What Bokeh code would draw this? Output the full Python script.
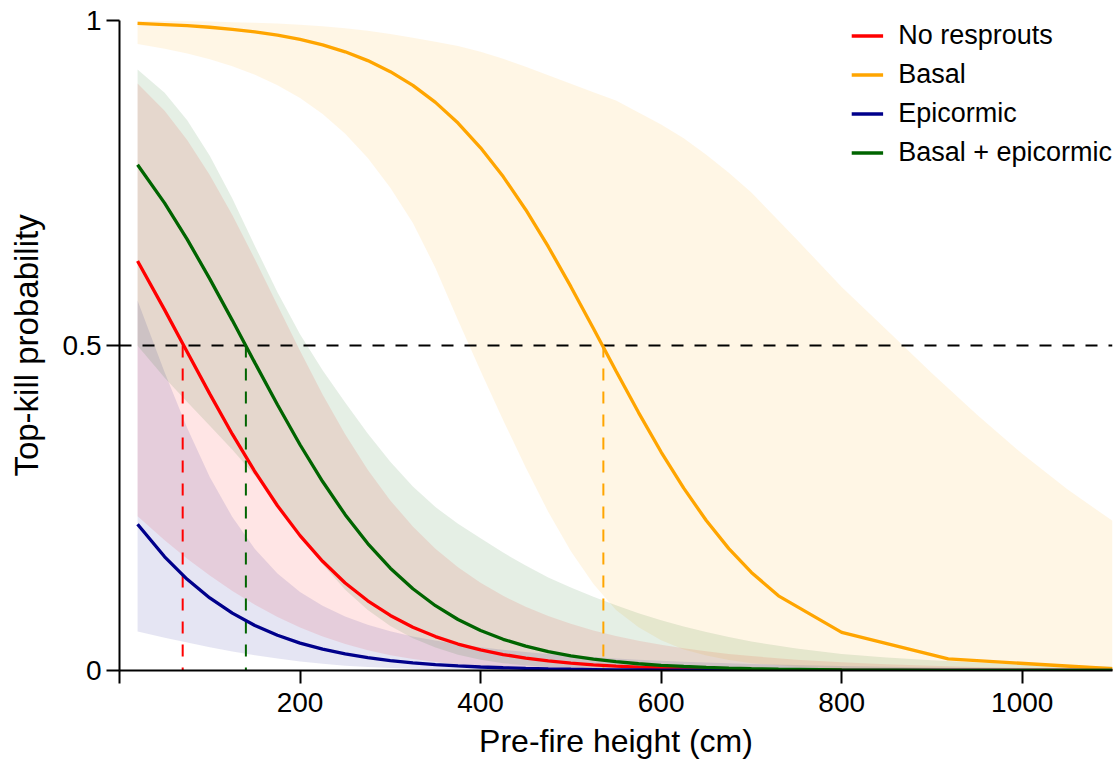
from bokeh.plotting import figure
from bokeh.models import FixedTicker, Legend, LegendItem
from bokeh.embed import file_html
from bokeh.resources import INLINE

FONT = "Liberation Sans"

# ---------------- data ----------------
# fitted curves: pre-fire height (cm) -> top-kill probability
line_x = [20, 50, 75, 100, 125, 150, 175, 200, 225, 250, 275, 300, 325, 350, 375,
          400, 425, 450, 475, 500, 525, 550, 575, 600, 625, 650, 675, 700,
          730, 800, 918, 1100]
no_resprouts = [0.630, 0.5548, 0.4900, 0.4256, 0.3635, 0.3058, 0.2535, 0.2075, 0.1680,
                0.1347, 0.1072, 0.0847, 0.0666, 0.0522, 0.0407, 0.0317, 0.0246, 0.0191,
                0.0148, 0.0114, 0.0088, 0.0068, 0.0053, 0.0041, 0.0031, 0.0024, 0.0019,
                0.0014, 0.0011, 0.0005, 0.00015, 0.00002]
basal = [0.9955, 0.9938, 0.9920, 0.9896, 0.9865, 0.9826, 0.9775, 0.9709, 0.9625,
         0.9518, 0.9383, 0.9213, 0.9002, 0.8740, 0.8422, 0.8042, 0.7599, 0.7089,
         0.6520, 0.5905, 0.5262, 0.4608, 0.3968, 0.3361, 0.2805, 0.2308, 0.1875,
         0.1509, 0.1149, 0.0587, 0.0178, 0.0027]
epicormic = [0.2249, 0.1749, 0.1403, 0.1116, 0.0882, 0.0692, 0.0542, 0.0422, 0.0328,
             0.0255, 0.0197, 0.0152, 0.0118, 0.0091, 0.0070, 0.0054, 0.0042, 0.0032,
             0.0025, 0.0019, 0.0015, 0.0011, 0.0009, 0.0007, 0.0005, 0.0004, 0.0003,
             0.0002, 0.0002, 0.0001, 0.00003, 0.00001]
basal_epicormic = [0.778, 0.7191, 0.6633, 0.6025, 0.5387, 0.4733, 0.4088, 0.3473,
                   0.2907, 0.2397, 0.1953, 0.1574, 0.1258, 0.0997, 0.0785, 0.0615,
                   0.0480, 0.0374, 0.0290, 0.0225, 0.0174, 0.0135, 0.0104, 0.0080,
                   0.0062, 0.0048, 0.0037, 0.0028, 0.0021, 0.0010, 0.0003, 0.00004]

# confidence bands
band_x = [20, 50, 75, 100, 125, 150, 175, 200, 225, 250, 275, 300, 325, 350, 375,
          400, 425, 450, 475, 500, 525, 550, 575, 600, 625, 650, 675, 700,
          750, 800, 850, 900, 950, 1000, 1050, 1100]
no_resprouts_lo = [0.2372, 0.2004, 0.1721, 0.1460, 0.1224, 0.1012, 0.0825, 0.0662,
                   0.0523, 0.0407, 0.0312, 0.0236, 0.0176, 0.0129, 0.0094, 0.0068,
                   0.0049, 0.0035, 0.0025, 0.0017, 0.0012, 0.0008, 0.0006, 0.0004,
                   0.0003, 0.0002, 0.0001, 0.0001, 0.00005, 0.00003, 0.00002, 0.00001,
                   0.0, 0.0, 0.0, 0.0]
no_resprouts_hi = [0.9031, 0.8610, 0.8163, 0.7624, 0.7006, 0.6327, 0.5619, 0.4918,
                   0.4247, 0.3635, 0.3090, 0.2617, 0.2215, 0.1875, 0.1590, 0.1349,
                   0.1149, 0.0980, 0.0839, 0.0718, 0.0617, 0.0531, 0.0457, 0.0395,
                   0.0341, 0.0295, 0.0255, 0.0222, 0.0167, 0.0126, 0.0096, 0.0073,
                   0.0055, 0.0042, 0.0032, 0.0024]
basal_lo = [0.9639, 0.9567, 0.9493, 0.9404, 0.9297, 0.9166, 0.9005, 0.8806, 0.8562,
            0.8258, 0.7883, 0.7427, 0.6883, 0.6194, 0.5387, 0.4608, 0.3851, 0.3122,
            0.2438, 0.1833, 0.1330, 0.0930, 0.0667, 0.0465, 0.0325, 0.0229, 0.0160,
            0.0112, 0.0056, 0.0027, 0.0012, 0.0006, 0.0003, 0.0001, 0.00005, 0.00002]
basal_hi = [0.9994, 0.9991, 0.9988, 0.9983, 0.9975, 0.9965, 0.9952, 0.9934, 0.9911,
            0.9880, 0.9842, 0.9794, 0.9736, 0.9673, 0.9606, 0.9518, 0.9411, 0.9289,
            0.9159, 0.9026, 0.8895, 0.8769, 0.8583, 0.8401, 0.8188, 0.7935, 0.7657,
            0.7354, 0.6635, 0.5900, 0.5237, 0.4573, 0.3934, 0.3334, 0.2787, 0.2302]
epicormic_lo = [0.0600, 0.0504, 0.0429, 0.0358, 0.0294, 0.0235, 0.0183, 0.0139,
                0.0103, 0.0075, 0.0053, 0.0037, 0.0026, 0.0017, 0.0012, 0.0008,
                0.0005, 0.0004, 0.0002, 0.0002, 0.0001, 0.0001, 0.00005, 0.00004,
                0.00003, 0.00002, 0.00001, 0.00001, 0.0, 0.0, 0.0, 0.0, 0.0, 0.0,
                0.0, 0.0]
epicormic_hi = [0.5691, 0.4588, 0.3729, 0.2978, 0.2360, 0.1869, 0.1494, 0.1209,
                0.0995, 0.0832, 0.0705, 0.0605, 0.0525, 0.0460, 0.0405, 0.0358,
                0.0319, 0.0285, 0.0255, 0.0229, 0.0206, 0.0185, 0.0167, 0.0151,
                0.0136, 0.0123, 0.0112, 0.0101, 0.0083, 0.0069, 0.0057, 0.0047,
                0.0039, 0.0032, 0.0026, 0.0022]
basal_epicormic_lo = [0.4995, 0.4502, 0.4129, 0.3766, 0.3396, 0.3001, 0.2556, 0.2090,
                      0.1636, 0.1241, 0.0931, 0.0686, 0.0498, 0.0352, 0.0243, 0.0165,
                      0.0113, 0.0078, 0.0053, 0.0036, 0.0024, 0.0017, 0.0011, 0.0008,
                      0.0005, 0.0004, 0.0003, 0.0002, 0.0001, 0.00005, 0.00003,
                      0.00002, 0.00001, 0.0, 0.0, 0.0]
basal_epicormic_hi = [0.9248, 0.8890, 0.8466, 0.7918, 0.7261, 0.6532, 0.5820, 0.5172,
                      0.4621, 0.4124, 0.3645, 0.3213, 0.2831, 0.2514, 0.2256, 0.2034,
                      0.1814, 0.1614, 0.1431, 0.1276, 0.1136, 0.1002, 0.0881, 0.0773,
                      0.0678, 0.0594, 0.0515, 0.0445, 0.0339, 0.0255, 0.0201, 0.0158,
                      0.0125, 0.0098, 0.0077, 0.0060]

# heights at which probability reaches 0.5 (no resprouts, basal + epicormic, basal)
ld50 = [70, 140, 536]
threshold = 0.5

series_names = ["No resprouts", "Basal", "Epicormic", "Basal + epicormic"]
x_ticks = [0, 200, 400, 600, 800, 1000]
x_tick_labels = ["", "200", "400", "600", "800", "1000"]
y_ticks = [0, 0.5, 1]
y_tick_labels = ["0", "0.5", "1"]
x_title = "Pre-fire height (cm)"
y_title = "Top-kill probability"

# ---------------- styling ----------------
RED, ORANGE, BLUE, GREEN = "#FF0000", "#FFA500", "#00008B", "#006400"
X_START, X_END = 0, 1100
Y_START, Y_END = 0, 1.0

p = figure(width=1116, height=762, x_range=(X_START, X_END), y_range=(Y_START, Y_END),
           output_backend="svg", toolbar_location=None,
           min_border_left=119, min_border_right=4, min_border_top=20,
           min_border_bottom=92)
p.outline_line_color = None
p.grid.visible = False

# bands
for lo, hi, col in [(no_resprouts_lo, no_resprouts_hi, RED),
                    (basal_lo, basal_hi, ORANGE),
                    (epicormic_lo, epicormic_hi, BLUE),
                    (basal_epicormic_lo, basal_epicormic_hi, GREEN)]:
    p.varea(x=band_x, y1=lo, y2=hi, fill_color=col, fill_alpha=0.1)

# threshold line
p.segment(x0=[X_START], y0=[threshold], x1=[X_END], y1=[threshold],
          line_color="black", line_width=2, line_dash="12 11")

# vertical LD50 markers
p.segment(x0=ld50, y0=[threshold] * 3, x1=ld50, y1=[Y_START] * 3,
          line_color=[RED, GREEN, ORANGE], line_width=2, line_dash="12 11")

# curves
renderers = []
for ys, col in [(no_resprouts, RED), (basal, ORANGE), (epicormic, BLUE),
                (basal_epicormic, GREEN)]:
    renderers.append(p.line(line_x, ys, line_color=col, line_width=3.3))

legend = Legend(items=[LegendItem(label=n, renderers=[r])
                       for n, r in zip(series_names, renderers)],
                location="top_right")
legend.border_line_color = None
legend.background_fill_alpha = 0
legend.label_text_font = FONT
legend.label_text_font_size = "27px"
legend.label_text_color = "black"
legend.glyph_width = 32
legend.glyph_height = 31
legend.label_height = 31
legend.label_standoff = 15
legend.spacing = 8
legend.padding = 0
legend.margin = 0
p.add_layout(legend)

# axes
p.xaxis.ticker = FixedTicker(ticks=x_ticks)
p.yaxis.ticker = FixedTicker(ticks=y_ticks)
p.xaxis.major_label_overrides = {t: s for t, s in zip(x_ticks, x_tick_labels)}
p.yaxis.major_label_overrides = {t: s for t, s in zip(y_ticks, y_tick_labels)}
for ax in (p.xaxis, p.yaxis):
    ax.axis_line_width = 2
    ax.axis_line_color = "black"
    ax.major_tick_line_width = 2
    ax.major_tick_line_color = "black"
    ax.major_tick_out = 13
    ax.major_tick_in = 0
    ax.minor_tick_out = 0
    ax.minor_tick_in = 0
    ax.major_label_text_font = FONT
    ax.major_label_text_font_size = "28px"
    ax.major_label_text_color = "black"
    ax.axis_label_text_font = FONT
    ax.axis_label_text_font_style = "normal"
    ax.axis_label_text_color = "black"
p.xaxis.major_label_standoff = 9
p.yaxis.major_label_standoff = 5
p.xaxis.axis_label = x_title
p.yaxis.axis_label = y_title
p.xaxis.axis_label_text_font_size = "32px"
p.yaxis.axis_label_text_font_size = "33px"
p.xaxis.axis_label_standoff = 8
p.yaxis.axis_label_standoff = 15

open("out.html", "w").write(file_html(p, INLINE))
